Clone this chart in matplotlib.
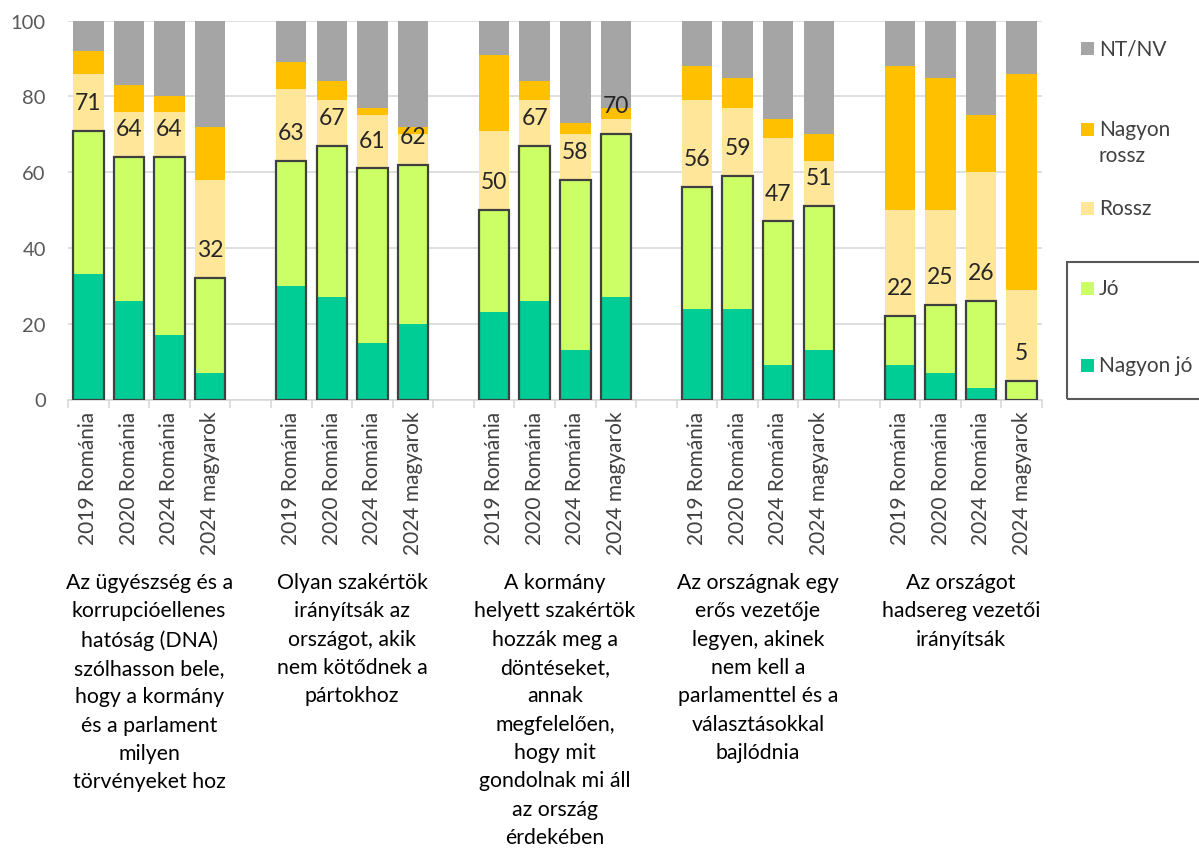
import matplotlib
matplotlib.use('Agg')
import matplotlib.pyplot as plt
import matplotlib.transforms as mtransforms
from matplotlib.patches import Rectangle
import numpy as np

plt.rcParams['font.family'] = ['Lato', 'DejaVu Sans']

W, H = 1199, 854

groups = [
    'Az ügyészség és a\nkorrupcióellenes\nhatóság (DNA)\nszólhasson bele,\nhogy a kormány\nés a parlament\nmilyen\ntörvényeket hoz',
    'Olyan szakértök\nirányítsák az\nországot, akik\nnem kötődnek a\npártokhoz',
    'A kormány\nhelyett szakértök\nhozzák meg a\ndöntéseket,\nannak\nmegfelelően,\nhogy mit\ngondolnak mi áll\naz ország\nérdekében',
    'Az országnak egy\nerős vezetője\nlegyen, akinek\nnem kell a\nparlamenttel és a\nválasztásokkal\nbajlódnia',
    'Az országot\nhadsereg vezetői\nirányítsák',
]
periods = ['2019 Románia', '2020 Románia', '2024 Románia', '2024 magyarok']

nagyon_jo    = [33, 26, 17, 7,  30, 27, 15, 20,  23, 26, 13, 27,  24, 24, 9, 13,  9, 7, 3, 0]
jo           = [38, 38, 47, 25, 33, 40, 46, 42,  27, 41, 45, 43,  32, 35, 38, 38, 13, 18, 23, 5]
rossz        = [15, 12, 12, 26, 19, 12, 14, 8,   21, 12, 12, 4,   23, 18, 22, 12, 28, 25, 34, 24]
nagyon_rossz = [6, 7, 4, 14,    7, 5, 2, 2,      20, 5, 3, 3,     9, 8, 5, 7,      38, 35, 15, 57]
nt_nv        = [8, 17, 20, 28,  11, 16, 23, 28,  9, 16, 27, 23,   12, 15, 26, 30,  12, 15, 25, 14]

series = [
    ('Nagyon jó', nagyon_jo, '#00CC96'),
    ('Jó', jo, '#CCFF66'),
    ('Rossz', rossz, '#FFE699'),
    ('Nagyon\nrossz', nagyon_rossz, '#FFC000'),
    ('NT/NV', nt_nv, '#A5A5A5'),
]

n_per = len(periods)
n_cat = len(groups) * (n_per + 1) - 1
x = np.array([g * (n_per + 1) + i for g in range(len(groups)) for i in range(n_per)])
bw = 0.75

fig = plt.figure(figsize=(W / 100, H / 100), dpi=100)
ax = fig.add_axes([68 / W, 1 - 400.5 / H, (1042 - 68) / W, (400.5 - 21.7) / H])

bottom = np.zeros(len(x))
for name, vals, col in series:
    vals = np.array(vals, dtype=float)
    ax.bar(x, vals, bottom=bottom, width=bw, color=col, linewidth=0, zorder=2)
    bottom += vals

good = np.array(nagyon_jo) + np.array(jo)
ax.bar(x, good, width=bw, fill=False, edgecolor='#404040', linewidth=1.6, zorder=3)
for xi, v in zip(x, good):
    ax.text(xi, v + 7.5, f'{v:d}', ha='center', va='center', fontsize=16.5,
            color='#262626', zorder=4)

ax.set_xlim(-0.5, n_cat - 0.5)
ax.set_ylim(0, 100)
ax.set_yticks(range(0, 101, 20))
ax.yaxis.grid(True, color='#D9D9D9', linewidth=1.2, zorder=0)
ax.set_axisbelow(True)
for s in ['top', 'right', 'left']:
    ax.spines[s].set_visible(False)
ax.spines['bottom'].set_color('#D9D9D9')
ax.spines['bottom'].set_linewidth(1.2)
ax.tick_params(axis='y', length=0, pad=16, labelsize=14.5, labelcolor='#595959')

ax.set_xticks(x)
ax.set_xticklabels(periods * len(groups), rotation=90, fontsize=15, color='#404040')
ax.tick_params(axis='x', length=0, pad=8)
# boundary tick marks between categories
ax.set_xticks(np.arange(-0.5, n_cat, 1.0), minor=True)
ax.tick_params(axis='x', which='minor', length=6, color='#D9D9D9', width=1.2)

trans = mtransforms.blended_transform_factory(ax.transData, fig.transFigure)
for g, label in enumerate(groups):
    cx = g * (n_per + 1) + (n_per - 1) / 2
    ax.text(cx, 1 - 573 / H, label, transform=trans, ha='center', va='top',
            fontsize=15.3, color='black', linespacing=1.52, multialignment='center')


def fpos(px, py):
    return px / W, 1 - py / H


# legend
leg_items = [('NT/NV', '#A5A5A5', 49), ('Nagyon\nrossz', '#FFC000', 130),
             ('Rossz', '#FFE699', 209), ('Jó', '#CCFF66', 289), ('Nagyon jó', '#00CC96', 366)]
for text, col, py in leg_items:
    sx, sy = fpos(1081, py + 6.5)
    fig.patches.append(Rectangle((sx, sy), 13 / W, 13 / H, transform=fig.transFigure,
                                 facecolor=col, edgecolor='none'))
    tx, ty = fpos(1099, py - 10)
    fig.text(tx, ty, text, ha='left', va='top', fontsize=15, color='#404040', linespacing=1.4)

bx, by = fpos(1067, 400)
fig.patches.append(Rectangle((bx, by), (1210 - 1067) / W, (400 - 263) / H,
                             transform=fig.transFigure, fill=False,
                             edgecolor='#595959', linewidth=1.5))

fig.savefig('out.png', dpi=100)
